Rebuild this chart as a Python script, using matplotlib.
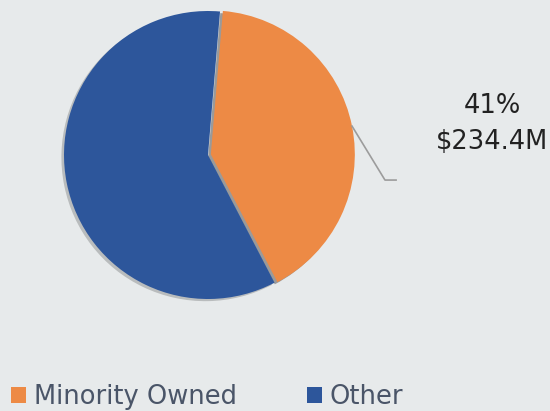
import numpy as np
import matplotlib
matplotlib.use("Agg")
import matplotlib.pyplot as plt

# Data
labels = ["Minority Owned", "Other"]
values = [234.4, 337.0]
colors = ["#ED8A45", "#2D569B"]
callout_pct = "41%"
callout_amt = "$234.4M"

plt.rcParams['font.family'] = ['DejaVu Sans']

W, H = 550, 411
fig = plt.figure(figsize=(W / 100, H / 100), dpi=100)
fig.patch.set_facecolor("#e7eaeb")

# pie centre (208,155) px, radius 144 px
cx, cy, r = 208, 155, 144
ax = fig.add_axes([(cx - r) / W, (H - cy - r) / H, 2 * r / W, 2 * r / H])
ax.axis("off")

# soft shadow pie behind
ax.pie(values, colors=["#9a9a9a", "#b9bcbd"], startangle=85.2, counterclock=False,
       center=(-0.018, -0.015), explode=[0.02, 0], radius=1.0,
       wedgeprops=dict(linewidth=0))
wedges, _ = ax.pie(values, colors=colors, startangle=85.2, counterclock=False,
                   explode=[0.02, 0], radius=1.0, wedgeprops=dict(linewidth=0))
ax.set_xlim(-1, 1)
ax.set_ylim(-1, 1)
ax.set_aspect("equal")

# leader line for the orange slice
w = wedges[0]
mid = np.deg2rad((w.theta1 + w.theta2) / 2)
x0, y0 = 1.02 * np.cos(mid), 1.02 * np.sin(mid)
ax.plot([x0, 1.229, 1.306], [y0, -0.174, -0.174], color="#9c9c9c", lw=1.2,
        clip_on=False)
ax.text(1.972, 0.34, callout_pct, ha="center", va="center", fontsize=18.5,
        color="#222222", clip_on=False)
ax.text(1.972, 0.09, callout_amt, ha="center", va="center", fontsize=18.5,
        color="#222222", clip_on=False)

fig.legend(wedges, labels, ncol=2, loc="lower left", bbox_to_anchor=(11 / W, 1 / H),
           frameon=False, fontsize=18.5, labelcolor="#4a5568", handlelength=0.6,
           handleheight=0.6, handletextpad=0.3, columnspacing=2.7, borderpad=0,
           borderaxespad=0)

fig.savefig("out.png", dpi=100, facecolor=fig.get_facecolor())
